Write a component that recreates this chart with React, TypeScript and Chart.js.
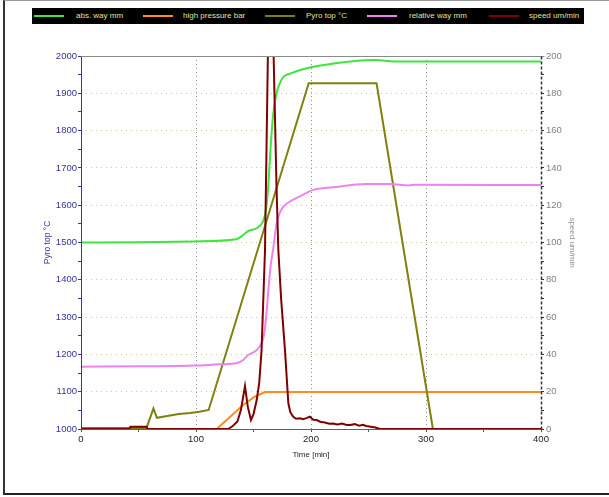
import React, { useEffect, useRef } from "react";
import { Chart, registerables } from "chart.js";

Chart.register(...registerables);

// ---- data (time in minutes) ----
const pyroT = [0, 57, 63, 66, 75, 85, 95, 103, 111, 198, 257, 306, 400];
const pyroV = [1003, 1003, 1055, 1030, 1035, 1040, 1043, 1046, 1051, 1927, 1927, 1000, 1000];

const absWayT = [0, 50, 100, 135, 141, 145, 153, 158, 161, 163, 165, 167, 170, 173, 176, 183, 190, 202, 215, 234, 257, 272, 300, 350, 400];
const absWayV = [100, 100.2, 100.6, 101.7, 104, 106, 107.8, 111, 118, 132, 152, 168, 180, 185.5, 188.8, 190.8, 192.4, 194.2, 195.5, 197, 197.8, 197, 197, 197, 197];

const relWayT = [0, 50, 100, 121, 135, 141, 145, 153, 157, 159, 161, 163, 165, 167, 170, 173, 176, 183, 190, 202, 219, 248, 269, 285, 290, 400];
const relWayV = [33.4, 33.6, 34.0, 34.7, 35.2, 37, 39.5, 42.4, 46, 50, 60, 75, 88, 96, 110, 116, 119.2, 122.5, 124.6, 128.2, 129.6, 131.4, 131.4, 130.6, 131, 130.8];

const pressT = [0, 118, 141, 151, 160, 400];
const pressV = [0, 0, 12.9, 17.3, 19.8, 19.9];

const speedT = [0, 42, 43, 57, 58, 128, 132, 136, 139, 142.6, 145, 147.8, 150, 152.8, 155, 157, 160, 162.5, 164, 166, 167.5, 170, 171.6, 174, 177.4, 180.3, 182, 184.6, 187, 190.4, 193, 196, 199, 202, 205, 208, 212, 216, 219, 223, 227, 231, 234, 238, 242, 245, 248, 252, 256, 260, 400];
const speedV = [0, 0, 1.2, 1.2, 0, 0, 1.6, 4, 10, 23, 12, 4.8, 8, 15.5, 25, 42, 96, 200, 240, 240, 200, 130, 96, 70, 42, 13.8, 9, 6.6, 5.5, 5.7, 5.2, 5.8, 6.6, 5, 4.8, 3.9, 3.5, 2.8, 3, 2.4, 2.9, 2.2, 2.1, 2.6, 1.8, 2.2, 1.6, 1.2, 0.8, 0, 0];

const legendNames = ["abs. way mm", "high pressure bar", "Pyro top °C", "relative way mm", "speed um/min"];
const legendColors = ["#3ce63c", "#ff8c1e", "#808010", "#ee82ee", "#800000"];
const legendLineX = [34, 143, 265, 367, 489];
const legendTextX = [76, 183, 306, 409, 529];

const zip = (t: number[], v: number[]) => t.map((x, i) => ({ x, y: v[i] }));

const FONT = "'Liberation Sans', Arial, sans-serif";

const framePlugin = {
  id: "frameLines",
  afterDatasetsDraw(chart: any) {
    const { ctx, chartArea } = chart;
    const l = Math.round(chartArea.left) + 0.5;
    const r = Math.round(chartArea.right) + 0.5;
    const t = Math.round(chartArea.top) + 0.5;
    const b = Math.round(chartArea.bottom) + 0.5;
    ctx.save();
    ctx.lineWidth = 1;
    ctx.strokeStyle = "#8a8a8a";
    ctx.beginPath(); ctx.moveTo(l, t); ctx.lineTo(r + 3, t); ctx.stroke();
    ctx.strokeStyle = "#606060";
    ctx.beginPath(); ctx.moveTo(l, b); ctx.lineTo(r, b); ctx.stroke();
    ctx.strokeStyle = "#3333aa";
    ctx.beginPath(); ctx.moveTo(l, t); ctx.lineTo(l, b); ctx.stroke();
    ctx.strokeStyle = "#333333";
    ctx.lineWidth = 1.5;
    ctx.setLineDash([3, 2]);
    ctx.beginPath(); ctx.moveTo(r, t); ctx.lineTo(r, b); ctx.stroke();
    ctx.restore();
  },
};

export default function App() {
  const ref = useRef<HTMLCanvasElement>(null);

  useEffect(() => {
    if (!ref.current) return;
    const common = { pointRadius: 0, borderWidth: 2, fill: false };
    const chart = new Chart(ref.current, {
      type: "line",
      data: {
        datasets: [
          { ...common, label: legendNames[4], data: zip(speedT, speedV), borderColor: legendColors[4], yAxisID: "y1", order: 0 },
          { ...common, label: legendNames[0], data: zip(absWayT, absWayV), borderColor: legendColors[0], yAxisID: "y1", order: 1, cubicInterpolationMode: "monotone" },
          { ...common, label: legendNames[3], data: zip(relWayT, relWayV), borderColor: legendColors[3], yAxisID: "y1", order: 2, cubicInterpolationMode: "monotone" },
          { ...common, label: legendNames[2], data: zip(pyroT, pyroV), borderColor: legendColors[2], yAxisID: "y", order: 3 },
          { ...common, label: legendNames[1], data: zip(pressT, pressV), borderColor: legendColors[1], yAxisID: "y1", order: 4 },
        ] as any,
      },
      options: {
        animation: false,
        responsive: false,
        parsing: true,
        layout: { padding: { top: 56, left: 0, right: 0, bottom: 0 } },
        plugins: { legend: { display: false }, tooltip: { enabled: false } },
        scales: {
          x: {
            type: "linear",
            position: "bottom",
            min: 0,
            max: 400,
            afterFit: (s: any) => { s.height = 68; },
            ticks: {
              stepSize: 50,
              autoSkip: false,
              maxRotation: 0,
              padding: 2,
              color: "#222222",
              font: { family: FONT, size: 9.5 },
              callback: (v: any) => (Number(v) % 100 === 0 ? String(v) : ""),
            },
            grid: {
              color: (c: any) => {
                const v = c.tick?.value;
                return v !== undefined && v % 100 === 0 && v > 0 && v < 400 ? "#909090" : "rgba(0,0,0,0)";
              },
              tickColor: "#555555",
              tickLength: 3,
              tickBorderDash: [],
            },
            border: { display: false, dash: [1, 3] },
            title: {
              display: true,
              text: "Time [min]",
              color: "#222222",
              font: { family: FONT, size: 8 },
              padding: { top: 0, bottom: 37 },
            },
          },
          y: {
            type: "linear",
            position: "left",
            min: 1000,
            max: 2000,
            afterFit: (s: any) => { s.width = 81; },
            ticks: {
              stepSize: 50,
              autoSkip: false,
              padding: 1,
              color: "#33339a",
              font: { family: FONT, size: 9.5 },
              callback: (v: any) => (Number(v) % 100 === 0 ? String(v) : ""),
            },
            grid: {
              color: (c: any) => {
                const v = c.tick?.value;
                return v !== undefined && v % 100 === 0 && v > 1000 && v < 2000 ? "#d8c89a" : "rgba(0,0,0,0)";
              },
              tickColor: "#3333aa",
              tickLength: 3,
              tickBorderDash: [],
            },
            border: { display: false, dash: [1, 4] },
            title: {
              display: true,
              text: "Pyro top °C",
              color: "#3333aa",
              font: { family: FONT, size: 8.5 },
              padding: { top: 43, bottom: 0 },
            },
          },
          y1: {
            type: "linear",
            position: "right",
            min: 0,
            max: 200,
            afterFit: (s: any) => { s.width = 68; },
            ticks: {
              stepSize: 10,
              autoSkip: false,
              padding: 2,
              color: "#808080",
              font: { family: FONT, size: 9.5 },
              callback: (v: any) => (Number(v) % 20 === 0 ? String(v) : ""),
            },
            grid: {
              drawOnChartArea: false,
              tickColor: "#333333",
              tickLength: 3,
              tickBorderDash: [],
            },
            border: { display: false },
            title: {
              display: true,
              text: "speed um/min",
              color: "#909090",
              font: { family: FONT, size: 8 },
              padding: { top: 32, bottom: 0 },
            },
          },
        },
      } as any,
      plugins: [framePlugin],
    });
    return () => chart.destroy();
  }, []);

  return (
    <div style={{ position: "absolute", left: 0, top: 0, width: 609, height: 497, background: "#fff", overflow: "hidden" }}>
      <div
        style={{
          position: "absolute",
          left: 3,
          top: 0,
          width: 606,
          height: 495,
          borderTop: "1px solid #999",
          borderLeft: "2px solid #333",
          borderBottom: "2px solid #222",
          boxSizing: "border-box",
        }}
      />
      <canvas ref={ref} width={609} height={497} style={{ position: "absolute", left: 0, top: 0 }} />
      <div style={{ position: "absolute", left: 32, top: 8, width: 552, height: 16, background: "#000" }}>
        {legendNames.map((n, i) => (
          <React.Fragment key={n}>
            <div
              style={{
                position: "absolute",
                left: legendLineX[i] - 32,
                top: 7,
                width: 30,
                height: 2,
                background: legendColors[i],
              }}
            />
            <div
              style={{
                position: "absolute",
                left: legendTextX[i] - 32,
                top: 0,
                height: 16,
                lineHeight: "16px",
                fontFamily: FONT,
                fontSize: 8,
                color: "#e2e29a",
                whiteSpace: "nowrap",
              }}
            >
              {n}
            </div>
          </React.Fragment>
        ))}
      </div>
    </div>
  );
}
